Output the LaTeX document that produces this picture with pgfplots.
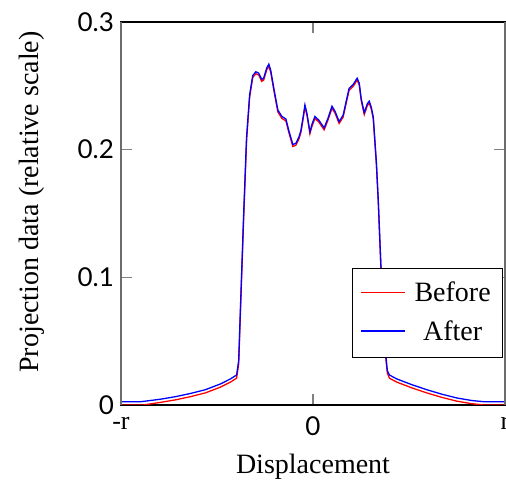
\documentclass[border=0pt]{standalone}
\usepackage{fontspec}
\setmainfont{Liberation Serif}
\setsansfont{Lato}
\usepackage{pgfplots}
\pgfplotsset{compat=1.18}
\begin{document}
\begin{tikzpicture}
\begin{axis}[
  name=ax,
  scale only axis,
  width=192pt, height=191.5pt,
  xmin=-1, xmax=1, ymin=0, ymax=0.3,
  xtick={-1,0,1}, xticklabels={{\rmfamily -r},0,{\rmfamily r}},
  ytick={0,0.1,0.2,0.3}, yticklabels={0,0.1,0.2,0.3},
  tick label style={font=\sffamily\fontsize{13}{13}\selectfont},
  xticklabel style={yshift=-2.5pt},
  major tick length=5.5pt,
  tick style={gray, line width=0.6pt},
  axis line style={black, line width=0.8pt},
  after end axis/.code={
    \draw[gray!85!black, line width=1.2pt] (rel axis cs:0,0) -- (rel axis cs:0,1);
    \draw[gray!85!black, line width=1.2pt] (rel axis cs:1,0) -- (rel axis cs:1,1);
  },
  xlabel={Displacement},
  ylabel={Projection data (relative scale)},
  label style={font=\fontsize{14}{14}\selectfont},
  xlabel style={at={(axis description cs:0.5,-0.162)}, anchor=center},
  ylabel style={at={(axis description cs:-0.232,0.53)}, anchor=center, rotate=0},
  legend style={at={(0.995,0.123)}, anchor=south east,
     inner xsep=4pt, inner ysep=5pt, row sep=4pt},
  legend cell align=center,
]
\addplot[draw=red, line width=0.65pt,
  legend image code/.code={\node[inner sep=0pt, anchor=west] at (0pt,0pt) {\textcolor{red}{\rule[-0.3pt]{22pt}{0.6pt}}};}] coordinates {
(-1.0,0) (-0.885,0) (-0.796,0.002) (-0.717,0.004) (-0.639,0.0065) (-0.560,0.0095)
(-0.482,0.014) (-0.429,0.018) (-0.398,0.021) (-0.387,0.032) (-0.377,0.077)
(-0.361,0.147) (-0.346,0.207) (-0.330,0.241) (-0.314,0.2565) (-0.298,0.2595)
(-0.283,0.2585) (-0.267,0.2535) (-0.257,0.2545) (-0.241,0.2625) (-0.230,0.2655)
(-0.220,0.2605) (-0.204,0.2465) (-0.183,0.2295) (-0.162,0.2245) (-0.141,0.2225)
(-0.126,0.2135) (-0.105,0.2025) (-0.089,0.2035) (-0.073,0.2085) (-0.063,0.2135)
(-0.052,0.2235) (-0.042,0.2335) (-0.031,0.2265) (-0.016,0.2125) (-0.005,0.2185)
(0.010,0.2245) (0.031,0.2215) (0.058,0.2155) (0.079,0.2235) (0.099,0.2325)
(0.115,0.2285) (0.136,0.2205) (0.157,0.2255) (0.173,0.2365) (0.188,0.2465)
(0.209,0.2495) (0.230,0.2545) (0.241,0.2505) (0.251,0.2385) (0.267,0.2275)
(0.283,0.2345) (0.293,0.2365) (0.304,0.2315) (0.314,0.224) (0.330,0.189)
(0.340,0.159) (0.356,0.099) (0.372,0.048) (0.387,0.025) (0.398,0.021)
(0.435,0.018) (0.513,0.0135) (0.592,0.0095) (0.670,0.006) (0.749,0.003)
(0.827,0.001) (0.890,0) (1.0,0)
};
\addlegendentry{\fontsize{14}{14}\selectfont\hspace{3pt}Before\hspace{3pt}}
\addplot[draw=blue, line width=0.65pt,
  legend image code/.code={\node[inner sep=0pt, anchor=west] at (0pt,0pt) {\textcolor{blue}{\rule[-0.3pt]{22pt}{0.6pt}}};}] coordinates {
(-1.0,0.0025) (-0.953,0.0025) (-0.901,0.0025) (-0.874,0.003) (-0.796,0.0045)
(-0.717,0.0065) (-0.639,0.009) (-0.560,0.012) (-0.482,0.0165) (-0.429,0.0205)
(-0.398,0.0235) (-0.387,0.035) (-0.377,0.08) (-0.361,0.15) (-0.346,0.21)
(-0.330,0.243) (-0.314,0.258) (-0.298,0.261) (-0.283,0.26) (-0.267,0.255)
(-0.257,0.256) (-0.241,0.264) (-0.230,0.267) (-0.220,0.262) (-0.204,0.248)
(-0.183,0.231) (-0.162,0.226) (-0.141,0.224) (-0.126,0.215) (-0.105,0.204)
(-0.089,0.205) (-0.073,0.210) (-0.063,0.215) (-0.052,0.225) (-0.042,0.235)
(-0.031,0.228) (-0.016,0.214) (-0.005,0.220) (0.010,0.226) (0.031,0.223)
(0.058,0.217) (0.079,0.225) (0.099,0.234) (0.115,0.230) (0.136,0.222)
(0.157,0.227) (0.173,0.238) (0.188,0.248) (0.209,0.251) (0.230,0.256)
(0.241,0.252) (0.251,0.240) (0.267,0.229) (0.283,0.236) (0.293,0.238)
(0.304,0.233) (0.314,0.2255) (0.330,0.19) (0.340,0.16) (0.356,0.10)
(0.372,0.05) (0.387,0.027) (0.398,0.0235) (0.435,0.0205) (0.513,0.016)
(0.592,0.012) (0.670,0.0085) (0.749,0.0055) (0.827,0.0035) (0.895,0.0025)
(1.0,0.0025)
};
\addlegendentry{\fontsize{14}{14}\selectfont\hspace{3pt}After\hspace{3pt}}
\end{axis}
\pgfresetboundingbox
\useasboundingbox ([shift={(-60.5pt,-42pt)}]ax.south west) rectangle ([shift={(0.5pt,11pt)}]ax.north east);
\end{tikzpicture}
\end{document}
